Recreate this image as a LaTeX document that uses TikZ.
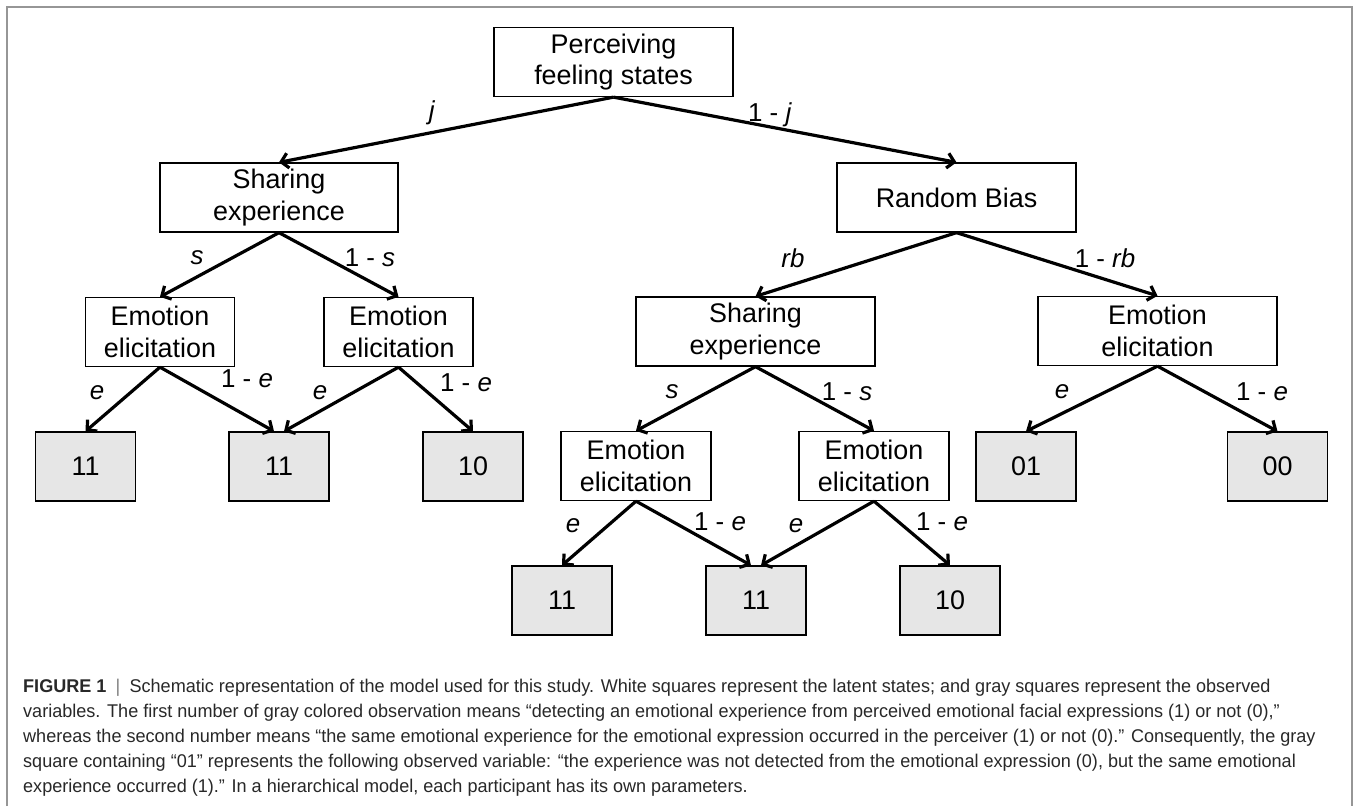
\documentclass[tikz,border=0pt]{standalone}
\usepackage{fontspec}
\setmainfont{Liberation Sans}
\newfontfamily\capfont[FakeStretch=0.98]{Liberation Sans}
\usetikzlibrary{arrows.meta}
\definecolor{obsgray}{RGB}{230,230,230}
\definecolor{framegray}{RGB}{150,150,150}
\definecolor{capgray}{RGB}{40,40,40}
\tikzset{
  latent/.style={
    draw=black,
    line width=1.3bp,
    fill=white,
    align=center,
    minimum height=69bp,
    inner sep=2bp,
    font=\fontsize{27}{32}\selectfont
  },
  observed/.style={latent, fill=obsgray, minimum width=100bp},
  prob/.style={inner sep=0pt, font=\fontsize{26}{30}\selectfont},
  flow/.style={-{Straight Barb[length=7bp,width=15bp]}, line width=3.2bp}
}

\begin{document}
\begin{tikzpicture}[x=1bp, y=-1bp]
  \useasboundingbox (0,0) rectangle (1356,806);
  \draw[framegray, line width=1.5bp] (7,806) -- (7,7) -- (1352,7) -- (1352,806);

  % latent states
  \node[latent, minimum width=239bp] (pfs) at (613.5,62) {Perceiving\\feeling states};
  \node[latent, minimum width=238bp] (sel) at (279,197.5) {Sharing\\experience};
  \node[latent, minimum width=239bp] (rbias) at (956.5,197.5) {Random Bias};
  \node[latent, minimum width=149bp] (eel1) at (160,332) {Emotion\\elicitation};
  \node[latent, minimum width=149bp] (eel2) at (398.5,332) {Emotion\\elicitation};
  \node[latent, minimum width=239bp] (ser) at (755.5,331.5) {Sharing\\experience};
  \node[latent, minimum width=239bp] (eer3) at (1157.5,331) {Emotion\\elicitation};
  \node[latent, minimum width=150bp] (eer1) at (636,466) {Emotion\\elicitation};
  \node[latent, minimum width=150bp] (eer2) at (874,466) {Emotion\\elicitation};

  % observed variables
  \node[observed] (o1) at (85.5,466.5) {11};
  \node[observed] (o2) at (279,466.5) {11};
  \node[observed] (o3) at (473,466.5) {10};
  \node[observed] (o4) at (1026,466.5) {01};
  \node[observed] (o5) at (1277.5,466.5) {00};
  \node[observed] (o6) at (562,600.5) {11};
  \node[observed] (o7) at (756,600.5) {11};
  \node[observed] (o8) at (950,600.5) {10};

  \draw[flow] (pfs.south) -- (sel.north);
  \draw[flow] (pfs.south) -- (rbias.north);
  \draw[flow] (sel.south) -- (eel1.north);
  \draw[flow] (sel.south) -- (eel2.north);
  \draw[flow] (rbias.south) -- (ser.north);
  \draw[flow] (rbias.south) -- (eer3.north);
  \draw[flow] (eel1.south) -- (o1.north);
  \draw[flow] (eel1.south) -- ([xshift=-5bp]o2.north);
  \draw[flow] (eel2.south) -- ([xshift=5bp]o2.north);
  \draw[flow] (eel2.south) -- (o3.north);
  \draw[flow] (ser.south) -- (eer1.north);
  \draw[flow] (ser.south) -- (eer2.north);
  \draw[flow] (eer3.south) -- (o4.north);
  \draw[flow] (eer3.south) -- (o5.north);
  \draw[flow] (eer1.south) -- (o6.north);
  \draw[flow] (eer1.south) -- ([xshift=-5bp]o7.north);
  \draw[flow] (eer2.south) -- ([xshift=5bp]o7.north);
  \draw[flow] (eer2.south) -- (o8.north);

  % branch probabilities
  \node[prob] (pj) at (432,113) {\textit{j}};
  \node[prob] (pnj) at (770,115) {1 - \textit{j}};
  \node[prob] (ps1) at (197,258) {\textit{s}};
  \node[prob] (pns1) at (370,258) {1 - \textit{s}};
  \node[prob] (prb) at (793,258) {\textit{rb}};
  \node[prob] (pnrb) at (1105,258) {1 - \textit{rb}};
  \node[prob] (pe1) at (97,393) {\textit{e}};
  \node[prob] (pne1) at (247,379) {1 - \textit{e}};
  \node[prob] (pe2) at (320,393) {\textit{e}};
  \node[prob] (pne2) at (466,383) {1 - \textit{e}};
  \node[prob] (ps2) at (672,392) {\textit{s}};
  \node[prob] (pns2) at (847,392) {1 - \textit{s}};
  \node[prob] (pe5) at (1062,392) {\textit{e}};
  \node[prob] (pne5) at (1262,392) {1 - \textit{e}};
  \node[prob] (pe3) at (573,526) {\textit{e}};
  \node[prob] (pne3) at (720,522) {1 - \textit{e}};
  \node[prob] (pe4) at (796,526) {\textit{e}};
  \node[prob] (pne4) at (942,522) {1 - \textit{e}};

  % caption (base anchor sits on the last line)
  \node[anchor=base west, align=left, inner sep=0pt, text=capgray,
        font=\capfont\fontsize{18.5}{25}\selectfont] (caption) at (23,792)
    {\textbf{FIGURE 1}\enspace{\color{gray}|}\enspace Schematic representation of the model used for this study. White squares represent the latent states; and gray squares represent the observed\\
     variables. The first number of gray colored observation means “detecting an emotional experience from perceived emotional facial expressions (1) or not (0),”\\
     whereas the second number means “the same emotional experience for the emotional expression occurred in the perceiver (1) or not (0).” Consequently, the gray\\
     square containing “01” represents the following observed variable: “the experience was not detected from the emotional expression (0), but the same emotional\\
     experience occurred (1).” In a hierarchical model, each participant has its own parameters.};
\end{tikzpicture}
\end{document}
